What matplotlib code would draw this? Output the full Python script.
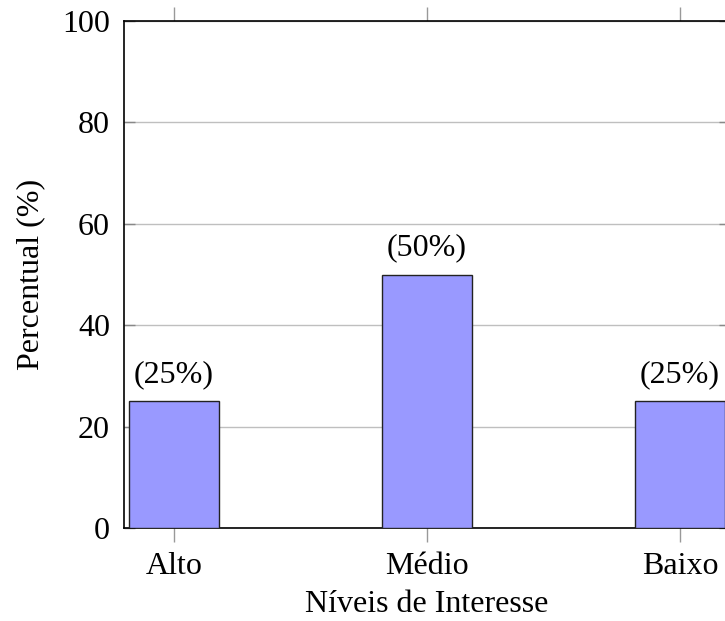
import numpy as np
import matplotlib.pyplot as plt

plt.rcParams["font.family"] = ["Liberation Serif", "DejaVu Serif"]

niveis = ["Alto", "Médio", "Baixo"]
percentual = [25, 50, 25]
rotulos = ["(25%)", "(50%)", "(25%)"]


def plot_interesse():
    fig = plt.figure(figsize=(7.25, 6.21), dpi=100)
    ax = fig.add_axes([124 / 725, 93 / 621, 606 / 725, 507 / 621])

    x = np.arange(len(niveis))

    ax.grid(axis="y", color="#bfbfbf", linewidth=1.0, zorder=0)
    bars = ax.bar(x, percentual, 0.356, color="#9999ff", edgecolor="#222222", linewidth=1.0, zorder=3)
    ax.bar_label(bars, labels=rotulos, padding=9, fontsize=23)

    ax.set_xlim(-0.198, 2.198)
    ax.set_ylim(0, 100)
    ax.set_xticks(x, niveis)
    ax.set_yticks(np.arange(0, 101, 20))

    ax.tick_params(axis="x", direction="out", top=True, length=10, width=1, color="#999999", pad=7, labelsize=23)
    ax.tick_params(axis="y", direction="in", right=True, length=8, width=1, color="#888888", pad=10, labelsize=23)

    for s in ax.spines.values():
        s.set_linewidth(1.2)
        s.set_color("black")

    ax.set_xlabel("Níveis de Interesse", fontsize=23, labelpad=7)
    ax.set_ylabel("Percentual (%)", fontsize=23, labelpad=12)

    fig.savefig("out.png", dpi=100)


if __name__ == "__main__":
    plot_interesse()
